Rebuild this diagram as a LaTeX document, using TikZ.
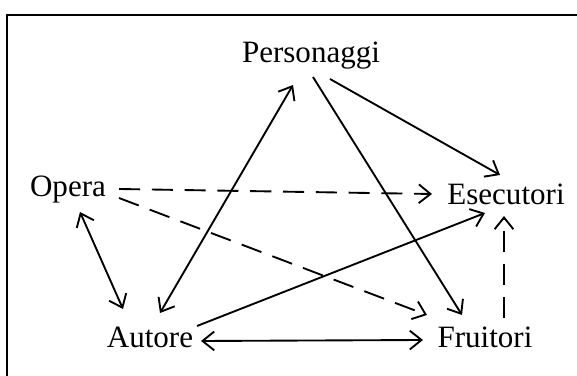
\documentclass[tikz,border=0pt]{standalone}
\usepackage{fontspec}
\setmainfont{Liberation Serif}
\usetikzlibrary{arrows.meta}
\tikzset{
  lbl/.style={anchor=base, inner sep=0pt, font=\fontsize{26.5}{32}\selectfont},
  conn/.style={line width=1.6pt},
  dsh/.style={conn, dash pattern=on 18pt off 10pt},
}
\begin{document}
\begin{tikzpicture}[x=0.03cm,y=-0.03cm,>={Straight Barb[length=10pt,width=16pt]}]
  \useasboundingbox (0,0) rectangle (577,376);
  % cornice
  \draw[line width=1.7pt] (7,376) -- (7,15) -- (577,15);
  % nodi
  \node[lbl] (personaggi) at (311,63) {Personaggi};
  \node[lbl] (opera) at (68,197) {Opera};
  \node[lbl] (esecutori) at (506,205) {Esecutori};
  \node[lbl] (autore) at (150,348) {Autore};
  \node[lbl] (fruitori) at (485,348) {Fruitori};
  % frecce tratteggiate
  \draw[dsh,->] ([shift={(51,-8)}]opera.base) -- ([shift={(-74,-11)}]esecutori.base);
  \draw[dsh,->] ([shift={(51,1)}]opera.base) -- ([shift={(-58,-33)}]fruitori.base);
  \draw[dsh,->] ([shift={(19,-30)}]fruitori.base) -- ([shift={(-2,11)}]esecutori.base);
  % frecce continue
  \draw[conn,<->] ([shift={(12,15)}]opera.base) -- ([shift={(-27,-39)}]autore.base);
  \draw[conn,<->] ([shift={(10,-35)}]autore.base) -- ([shift={(-18,22)}]personaggi.base);
  \draw[conn,->] ([shift={(2,14)}]personaggi.base) -- ([shift={(-23,-33)}]fruitori.base);
  \draw[conn,->] ([shift={(19,16)}]personaggi.base) -- ([shift={(-6,-30)}]esecutori.base);
  \draw[conn,->] ([shift={(47,-22)}]autore.base) -- ([shift={(-21,8)}]esecutori.base);
  \draw[conn,<->] ([shift={(51,-7)}]autore.base) -- ([shift={(-62,-8)}]fruitori.base);
\end{tikzpicture}
\end{document}
